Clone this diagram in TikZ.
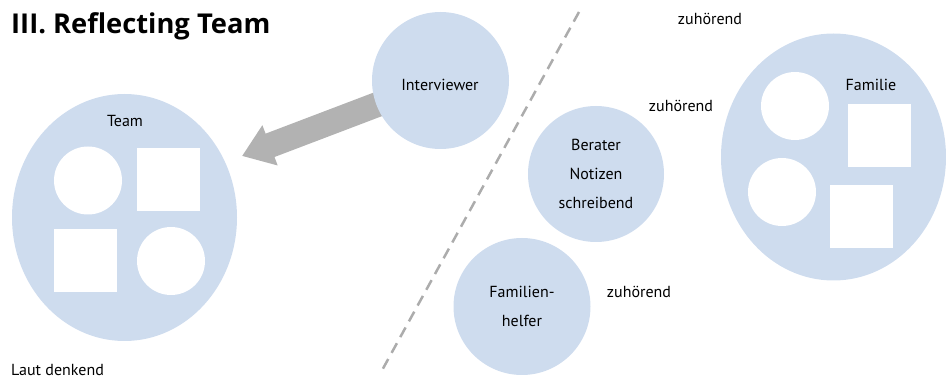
\documentclass[tikz,border=0pt]{standalone}
\usepackage{fontspec}
\setmainfont{PT Sans}
\newfontfamily\headingfont{Open Sans}
\usetikzlibrary{shapes.geometric,arrows.meta,backgrounds}
\definecolor{paleblue}{RGB}{206,220,238}
\definecolor{arrowgray}{RGB}{178,178,178}
\definecolor{dashgray}{RGB}{172,172,172}

\begin{document}
\begin{tikzpicture}[x=1pt,y=-1pt,
  blob/.style={circle,fill=paleblue,inner sep=0pt,minimum size=#1,
    align=center,font=\fontsize{16}{29}\selectfont},
  group/.style={ellipse,fill=paleblue,inner sep=0pt,
    minimum width=225pt,minimum height=247pt},
  member/.style={circle,fill=white,inner sep=0pt,minimum size=68pt},
  memberbox/.style={rectangle,fill=white,inner sep=0pt,
    minimum width=63pt,minimum height=63pt},
  lbl/.style={font=\fontsize{16}{29}\selectfont,inner sep=0pt,anchor=base},
  heading/.style={font=\headingfont\fontsize{27.3}{32}\selectfont\bfseries,inner sep=0pt,anchor=base west},
  bigarrow/.style={arrowgray,line width=25pt,-{Triangle[length=30pt,width=41pt]}},
  divider/.style={dashgray,line width=2.5pt,dash pattern=on 11pt off 7pt},
]
\useasboundingbox (0,0) rectangle (946,379);

% title
\node[heading] (title) at (11,33.5) {III. Reflecting Team};

% reflecting team group
\node[group] (team) at (124.5,217.5) {};
\node[lbl] (teamlabel) at (125,127) {Team};
\node[member] (t1) at (88,180.5) {};
\node[memberbox] (t2) at (168,179.5) {};
\node[memberbox] (t3) at (85.5,261) {};
\node[member] (t4) at (171,261) {};
\node[lbl,anchor=base west] (laut) at (11,376) {Laut denkend};

% interviewer and the arrow towards the team
\node[blob=137pt] (iv) at (440.5,80.5) {};
\node[lbl] (ivlabel) at (440,91) {Interviewer};
\coordinate (tip) at (242,156);
\begin{scope}[on background layer]
  \draw[bigarrow] (iv.center) -- (tip);
\end{scope}

% dividing line
\coordinate (dtop) at (579,12);
\coordinate (dbot) at (380,374);
\draw[divider] (dtop) -- (dbot);

% counsellor and family helper
\node[blob=136pt] (berater) at (596,174) {Berater\\Notizen\\schreibend};
\node[blob=137pt] (helfer) at (522,306.5) {Familien-\\helfer};

% family group
\node[group] (fam) at (833.5,157) {};
\node[lbl] (famlabel) at (871,91) {Familie};
\node[member] (f1) at (795,106) {};
\node[memberbox] (f2) at (879.5,136) {};
\node[member] (f3) at (782,192) {};
\node[memberbox] (f4) at (861.5,216.5) {};

% listening labels
\node[lbl] (z1) at (710,24.5) {zuhörend};
\node[lbl] (z2) at (681,111.5) {zuhörend};
\node[lbl] (z3) at (639,297.5) {zuhörend};
\end{tikzpicture}
\end{document}
